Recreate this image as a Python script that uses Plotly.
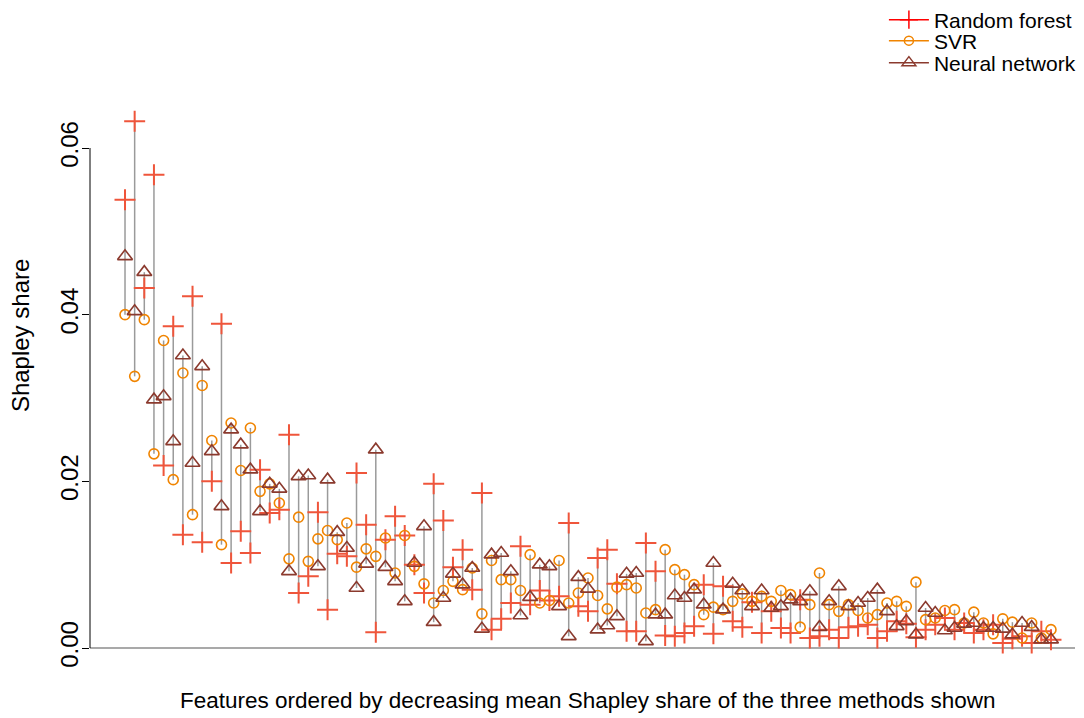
import plotly.graph_objects as go

# Shapley shares per feature (features ordered by decreasing mean share)
features = list(range(1, 98))

rf = [0.0538, 0.0632, 0.0432, 0.0568, 0.0219, 0.0386, 0.0136, 0.0422, 0.0127, 0.0200,
      0.0389, 0.0102, 0.0140, 0.0114, 0.0214, 0.0162, 0.0166, 0.0256, 0.0066, 0.0086,
      0.0163, 0.0046, 0.0113, 0.0110, 0.0210, 0.0148, 0.0019, 0.0130, 0.0158, 0.0135,
      0.0100, 0.0066, 0.0197, 0.0153, 0.0097, 0.0118, 0.0070, 0.0186, 0.0022, 0.0035,
      0.0054, 0.0122, 0.0052, 0.0069, 0.0057, 0.0062, 0.0150, 0.0050, 0.0044, 0.0108,
      0.0118, 0.0077, 0.0020, 0.0020, 0.0126, 0.0092, 0.0015, 0.0014, 0.0018, 0.0026,
      0.0076, 0.0017, 0.0074, 0.0032, 0.0025, 0.0055, 0.0018, 0.0044, 0.0024, 0.0018,
      0.0058, 0.0012, 0.0014, 0.0022, 0.0012, 0.0025, 0.0026, 0.0028, 0.0012, 0.0020,
      0.0032, 0.0029, 0.0013, 0.0022, 0.0028, 0.0036, 0.0022, 0.0030, 0.0018, 0.0022,
      0.0028, 0.0006, 0.0011, 0.0014, 0.0006, 0.0020, 0.0010]

svr = [0.0400, 0.0326, 0.0394, 0.0233, 0.0369, 0.0202, 0.0330, 0.0160, 0.0315, 0.0249,
       0.0124, 0.0270, 0.0213, 0.0264, 0.0188, 0.0197, 0.0174, 0.0107, 0.0157, 0.0104,
       0.0131, 0.0141, 0.0130, 0.0150, 0.0097, 0.0119, 0.0110, 0.0132, 0.0090, 0.0135,
       0.0098, 0.0077, 0.0054, 0.0069, 0.0080, 0.0070, 0.0096, 0.0041, 0.0105, 0.0082,
       0.0082, 0.0069, 0.0112, 0.0054, 0.0057, 0.0105, 0.0054, 0.0066, 0.0084, 0.0063,
       0.0047, 0.0073, 0.0076, 0.0072, 0.0042, 0.0046, 0.0118, 0.0094, 0.0088, 0.0076,
       0.0040, 0.0049, 0.0046, 0.0056, 0.0065, 0.0056, 0.0062, 0.0056, 0.0069, 0.0064,
       0.0025, 0.0052, 0.0090, 0.0052, 0.0044, 0.0052, 0.0045, 0.0036, 0.0040, 0.0054,
       0.0056, 0.0050, 0.0079, 0.0034, 0.0036, 0.0045, 0.0046, 0.0030, 0.0043, 0.0030,
       0.0017, 0.0035, 0.0031, 0.0012, 0.0030, 0.0012, 0.0022]

nn = [0.0470, 0.0404, 0.0451, 0.0298, 0.0302, 0.0248, 0.0351, 0.0222, 0.0338, 0.0236,
      0.0170, 0.0262, 0.0244, 0.0214, 0.0164, 0.0197, 0.0191, 0.0092, 0.0206, 0.0207,
      0.0098, 0.0202, 0.0139, 0.0120, 0.0072, 0.0101, 0.0238, 0.0097, 0.0080, 0.0056,
      0.0102, 0.0146, 0.0031, 0.0060, 0.0089, 0.0076, 0.0096, 0.0023, 0.0112, 0.0114,
      0.0092, 0.0039, 0.0061, 0.0100, 0.0098, 0.0050, 0.0014, 0.0085, 0.0071, 0.0022,
      0.0027, 0.0038, 0.0089, 0.0090, 0.0008, 0.0040, 0.0040, 0.0063, 0.0060, 0.0070,
      0.0052, 0.0102, 0.0046, 0.0077, 0.0069, 0.0050, 0.0069, 0.0048, 0.0050, 0.0058,
      0.0056, 0.0068, 0.0025, 0.0056, 0.0074, 0.0050, 0.0054, 0.0060, 0.0070, 0.0044,
      0.0026, 0.0032, 0.0016, 0.0048, 0.0042, 0.0021, 0.0024, 0.0029, 0.0030, 0.0024,
      0.0024, 0.0023, 0.0016, 0.0030, 0.0025, 0.0010, 0.0010]

y_tick_vals = [0.0, 0.02, 0.04, 0.06]
y_tick_text = ["0.00", "0.02", "0.04", "0.06"]

RED = "#FF0000"
ORANGE = "#F08400"
BROWN = "#8B3A2E"
GREY = "#9A9A9A"
FONT = "Arial, Liberation Sans, sans-serif"

# vertical range segments
seg_x, seg_y = [], []
for f, a, b, c in zip(features, rf, svr, nn):
    seg_x += [f, f, None]
    seg_y += [min(a, b, c), max(a, b, c), None]

fig = go.Figure()
fig.add_trace(go.Scatter(x=seg_x, y=seg_y, mode="lines",
                         line=dict(color=GREY, width=1.5),
                         showlegend=False, hoverinfo="skip"))

fig.add_trace(go.Scatter(x=features, y=rf, mode="markers", showlegend=False,
                         marker=dict(symbol="cross-thin-open", size=15,
                                     line=dict(color=RED, width=2))))
fig.add_trace(go.Scatter(x=features, y=svr, mode="markers", showlegend=False,
                         marker=dict(symbol="circle-open", size=10, color=ORANGE,
                                     line=dict(color=ORANGE, width=1.6))))
fig.add_trace(go.Scatter(x=features, y=nn, mode="markers", showlegend=False,
                         marker=dict(symbol="triangle-up-open", size=13, color=BROWN,
                                     line=dict(color=BROWN, width=1.6))))

# legend-only entries (line + symbol, as in the original), one legend per row
fig.add_trace(go.Scatter(x=[None], y=[None], mode="lines+markers", name="Random forest",
                         legend="legend",
                         line=dict(color=RED, width=1.5),
                         marker=dict(symbol="cross-thin-open", size=13,
                                     line=dict(color=RED, width=1.5))))
fig.add_trace(go.Scatter(x=[None], y=[None], mode="lines+markers", name="SVR",
                         legend="legend2",
                         line=dict(color=ORANGE, width=1.5),
                         marker=dict(symbol="circle-open", size=9, color=ORANGE,
                                     line=dict(color=ORANGE, width=1.5))))
fig.add_trace(go.Scatter(x=[None], y=[None], mode="lines+markers", name="Neural network",
                         legend="legend3",
                         line=dict(color=BROWN, width=1.5),
                         marker=dict(symbol="triangle-up-open", size=12, color=BROWN,
                                     line=dict(color=BROWN, width=1.5))))

leg_common = dict(x=0.806, xanchor="left", yanchor="middle", font=dict(size=21),
                  bgcolor="rgba(0,0,0,0)", borderwidth=0, itemwidth=40)

fig.update_layout(
    width=1084, height=718,
    margin=dict(l=82, r=17, t=102, b=66, autoexpand=False),
    paper_bgcolor="white", plot_bgcolor="white",
    font=dict(family=FONT, size=21, color="black"),
    showlegend=True,
    legend=dict(y=1.1636, **leg_common),
    legend2=dict(y=1.1255, **leg_common),
    legend3=dict(y=1.0855, **leg_common),
    xaxis=dict(range=[-2.63, 99.49], showgrid=False, zeroline=False,
               showline=False, showticklabels=False, ticks=""),
    yaxis=dict(range=[-0.00144, 0.06456], showgrid=False, zeroline=False,
               showline=False, tickvals=y_tick_vals, ticktext=y_tick_text,
               ticks="outside", ticklen=7, tickwidth=1, tickcolor="black",
               tickangle=-90, tickfont=dict(size=24), ticklabelstandoff=-6),
    shapes=[
        dict(type="line", xref="paper", yref="y", x0=0, x1=1, y0=0, y1=0,
             line=dict(color="#8C8C8C", width=1.5), layer="below"),
        dict(type="line", xref="paper", yref="y", x0=0, x1=0, y0=0, y1=0.06,
             line=dict(color="black", width=1)),
    ],
    annotations=[
        dict(text="Shapley share", xref="paper", yref="paper", x=-0.071, y=0.589,
             showarrow=False, textangle=-90, font=dict(size=24),
             xanchor="center", yanchor="middle"),
        dict(text="Features ordered by decreasing mean Shapley share of the three methods shown",
             xref="paper", yref="paper", x=0.5046, y=-0.0745, showarrow=False,
             font=dict(size=22.5), xanchor="center", yanchor="middle"),
    ],
)

fig.write_html("out.html")
